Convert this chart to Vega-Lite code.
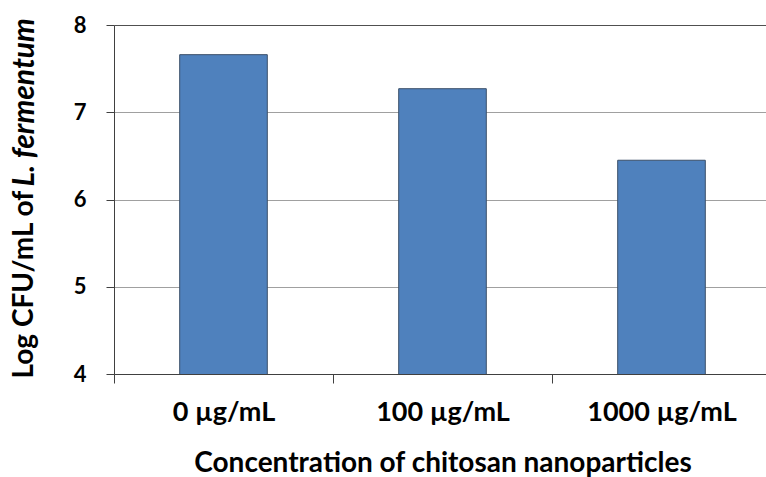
{
  "$schema": "https://vega.github.io/schema/vega-lite/v6.json",
  "autosize": {"type": "none"},
  "padding": {"left": 114, "top": 25, "right": 0, "bottom": 103},
  "width": 657,
  "height": 349,
  "background": "white",
  "config": {
    "view": {"stroke": null},
    "font": "Lato",
    "axis": {"labelFont": "Lato", "titleFont": "Lato"}
  },
  "data": {
    "values": [
      {"conc": "0 µg/mL", "logcfu": 7.66},
      {"conc": "100 µg/mL", "logcfu": 7.27},
      {"conc": "1000 µg/mL", "logcfu": 6.45}
    ]
  },
  "layer": [
    {
      "mark": {"type": "bar", "fill": "#4f81bd", "stroke": "#3b4f69", "strokeWidth": 1, "clip": true, "width": {"band": 0.4}},
      "encoding": {
        "x": {
          "field": "conc",
          "type": "nominal",
          "sort": null,
          "scale": {"paddingInner": 0, "paddingOuter": 0},
          "axis": {
            "title": "Concentration of chitosan nanoparticles",
            "titleFontSize": 28,
            "titleFontWeight": "bold",
            "titleColor": "black",
            "titlePadding": 24,
            "labelAngle": 0,
            "labelFontSize": 27,
            "labelFontWeight": "bold",
            "labelColor": "black",
            "labelPadding": 16,
            "tickBand": "extent",
            "tickSize": 9,
            "tickColor": "#404040",
            "domainColor": "#404040",
            "grid": false
          }
        },
        "y": {
          "field": "logcfu",
          "type": "quantitative",
          "scale": {"domain": [4, 8], "nice": false, "zero": false},
          "axis": {
            "title": "Log CFU/mL of",
            "titleFontSize": 28,
            "titleFontWeight": "bold",
            "titleColor": "black",
            "titleAngle": 270,
            "titleAlign": "left",
            "titleBaseline": "middle",
            "titleX": -90,
            "titleY": 353,
            "values": [4, 5, 6, 7, 8],
            "labelFontSize": 22,
            "labelFontWeight": "bold",
            "labelColor": "black",
            "labelPadding": 20,
            "tickSize": 8,
            "tickColor": "#404040",
            "domainColor": "#404040",
            "gridColor": {"condition": {"test": "datum.value === 8", "value": "#505050"}, "value": "#a0a0a0"}
          }
        }
      }
    },
    {
      "mark": {"type": "bar", "fillOpacity": 0, "strokeOpacity": 0, "clip": true},
      "encoding": {
        "x": {"field": "conc", "type": "nominal", "sort": null},
        "y": {
          "field": "logcfu",
          "type": "quantitative",
          "axis": {
            "orient": "right",
            "title": "L. fermentum",
            "titleFontSize": 30,
            "titleFontWeight": "bold",
            "titleFontStyle": "italic",
            "titleColor": "black",
            "titleAngle": 270,
            "titleAlign": "left",
            "titleBaseline": "middle",
            "titleX": -747,
            "titleY": 161,
            "labels": false,
            "ticks": false,
            "domain": false,
            "grid": false
          }
        }
      }
    }
  ],
  "resolve": {"axis": {"y": "independent"}}
}
